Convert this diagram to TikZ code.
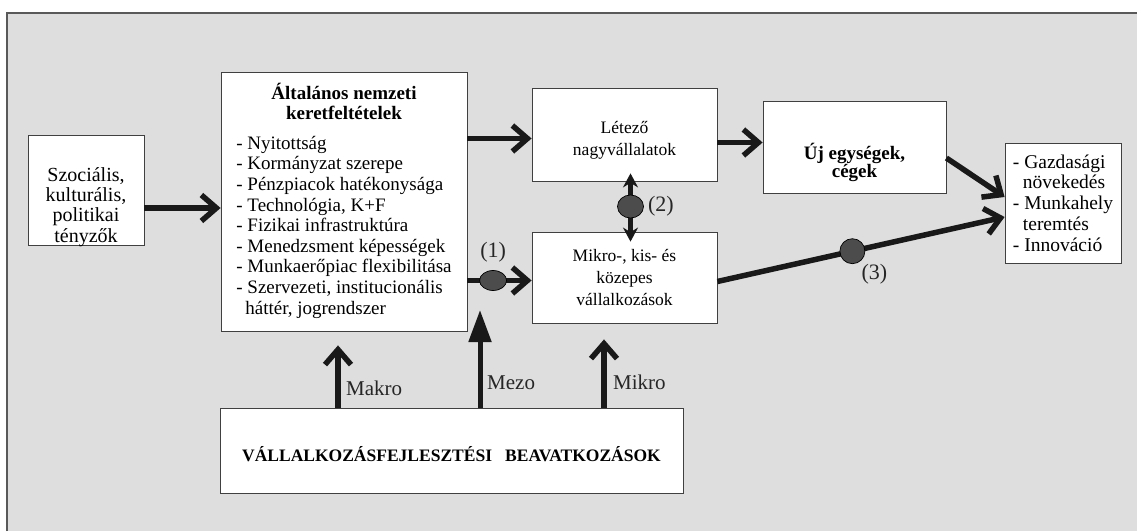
\documentclass[tikz,border=0pt]{standalone}
\usepackage{fontspec}
\setmainfont{Liberation Serif}
\usetikzlibrary{arrows.meta,positioning,shapes.geometric,calc}

\tikzset{
  box/.style={draw=black!75, fill=white, line width=0.8pt, inner sep=0pt, align=center},
  conn/.style={line width=5.5pt, draw=black!90, -{Straight Barb[length=15pt,width=26pt]}},
  twoway/.style={line width=5pt, draw=black!90, {Stealth[length=14pt,width=15pt]}-{Stealth[length=14pt,width=15pt]}},
  mezoarr/.style={line width=5pt, draw=black!90, -{Triangle[length=32pt,width=22pt]}},
  knot/.style={ellipse, draw=black, fill=black!70, line width=0.7pt, inner sep=0pt},
  lbl/.style={inner sep=0pt, font=\fontsize{21}{24}\selectfont, text=black!85},
  num/.style={inner sep=0pt, font=\fontsize{22}{24}\selectfont, text=black!85},
  bigtxt/.style={font=\fontsize{19}{20.6}\selectfont},
  midtxt/.style={font=\fontsize{17.5}{21.7}\selectfont},
}

\begin{document}
\begin{tikzpicture}[x=1pt,y=1pt]
  \useasboundingbox (0,0) rectangle (1137,531);
  % hatter
  \fill[black!13] (7,0) rectangle (1137,518);
  \draw[black!65, line width=1.5pt] (7,0) -- (7,518) -- (1137,518);

  % dobozok
  \node[box, minimum width=116pt, minimum height=110pt] (szoc) at (86,341) {};
  \node[font=\fontsize{20}{20.3}\selectfont, align=center] (szoctxt) at (86,324) {Szociális,\\kulturális,\\politikai\\tényzők};

  \node[box, bigtxt, minimum width=246pt, minimum height=259pt] (altal) at (344,329.5)
    {\textbf{Általános nemzeti}\\\textbf{keretfeltételek}\\[14pt]
     \begin{tabular}{@{}l@{}}
       - Nyitottság\\
       - Kormányzat szerepe\\
       - Pénzpiacok hatékonysága\\
       - Technológia, K+F\\
       - Fizikai infrastruktúra\\
       - Menedzsment képességek\\
       - Munkaerőpiac flexibilitása\\
       - Szervezeti, institucionális\\
       \hspace*{9pt}háttér, jogrendszer
     \end{tabular}};

  \node[box, minimum width=185pt, minimum height=93pt] (letezo) at (624.5,396.5) {};
  \node[midtxt, align=center] (letezotxt) at (624.5,390.5) {Létező\\nagyvállalatok};
  \node[box, midtxt, minimum width=185pt, minimum height=91pt] (mikro) at (624.5,253.5) {Mikro-, kis- és\\közepes\\vállalkozások};

  \node[box, minimum width=183pt, minimum height=92pt] (uj) at (854.5,384) {};
  \node[font=\fontsize{19}{18}\selectfont\bfseries, align=center] (ujtxt) at (854.5,369) {Új egységek,\\cégek};

  \node[box, font=\fontsize{19.5}{20.8}\selectfont, align=left, minimum width=116pt, minimum height=120pt] (eredm) at (1063,328)
    {- Gazdasági\\\hspace*{10pt}növekedés\\- Munkahely\\\hspace*{10pt}teremtés\\- Innováció};

  \node[box, minimum width=463pt, minimum height=85pt] (beav) at (451.5,80.5) {};
  \node[font=\fontsize{17.5}{20}\selectfont\bfseries] (beavtxt) at (451.5,76.5)
    {VÁLLALKOZÁSFEJLESZTÉSI\hspace{0.5em} BEAVATKOZÁSOK};

  % nyilak
  \draw[conn] ([yshift=-18pt]szoc.east) -- ([yshift=-18pt]szoc.east -| altal.west);
  \draw[conn] ([yshift=-4pt]altal.east |- letezo.west) -- ([yshift=-4pt]letezo.west);
  \draw[conn] ([yshift=-8pt]letezo.east) -- ([yshift=-8pt]letezo.east -| uj.west);
  \draw[conn] ([yshift=-11pt]uj.east) -- ([yshift=6pt]eredm.west);

  % (1)
  \draw[conn] ([yshift=-3pt]altal.east |- mikro.west) -- ([yshift=-3pt]mikro.west);
  \node[knot, minimum width=27pt, minimum height=20pt] (k1)
    at ($([yshift=-3pt]altal.east |- mikro.west)!0.4!([yshift=-3pt]mikro.west)$) {};
  \node[num, above=8pt of k1] (n1) {(1)};

  % (2)
  \draw[twoway, shorten <=-8pt, shorten >=-10pt] ([xshift=6pt]letezo.south) -- ([xshift=6pt]mikro.north);
  \node[knot, minimum width=26pt, minimum height=23pt] (k2)
    at ($([xshift=6pt]letezo.south)!0.5!([xshift=6pt]mikro.north)$) {};
  \node[num, right=4pt of k2] (n2) {(2)};

  % (3)
  \draw[conn] ([yshift=-4pt]mikro.east) -- ([yshift=-14pt]eredm.west);
  \node[knot, minimum size=25pt] (k3)
    at ($([yshift=-4pt]mikro.east)!0.47!([yshift=-14pt]eredm.west)$) {};
  \node[num] (n3) at ([shift={(22pt,-23pt)}]k3) {(3)};

  % beavatkozasi szintek
  \draw[conn, shorten >=14pt] ([xshift=-6pt]altal.south |- beav.north) -- ([xshift=-6pt]altal.south);
  \coordinate (mezotip) at (480,221);
  \draw[mezoarr] (beav.north -| mezotip) -- (mezotip);
  \draw[conn, shorten >=16pt] ([xshift=-20.5pt]mikro.south |- beav.north) -- ([xshift=-20.5pt]mikro.south);

  \node[lbl, anchor=west] (makro) at (346,143) {Makro};
  \node[lbl, anchor=west] (mezo) at (487,148) {Mezo};
  \node[lbl, anchor=west] (mikrolbl) at (613,149) {Mikro};
\end{tikzpicture}
\end{document}
